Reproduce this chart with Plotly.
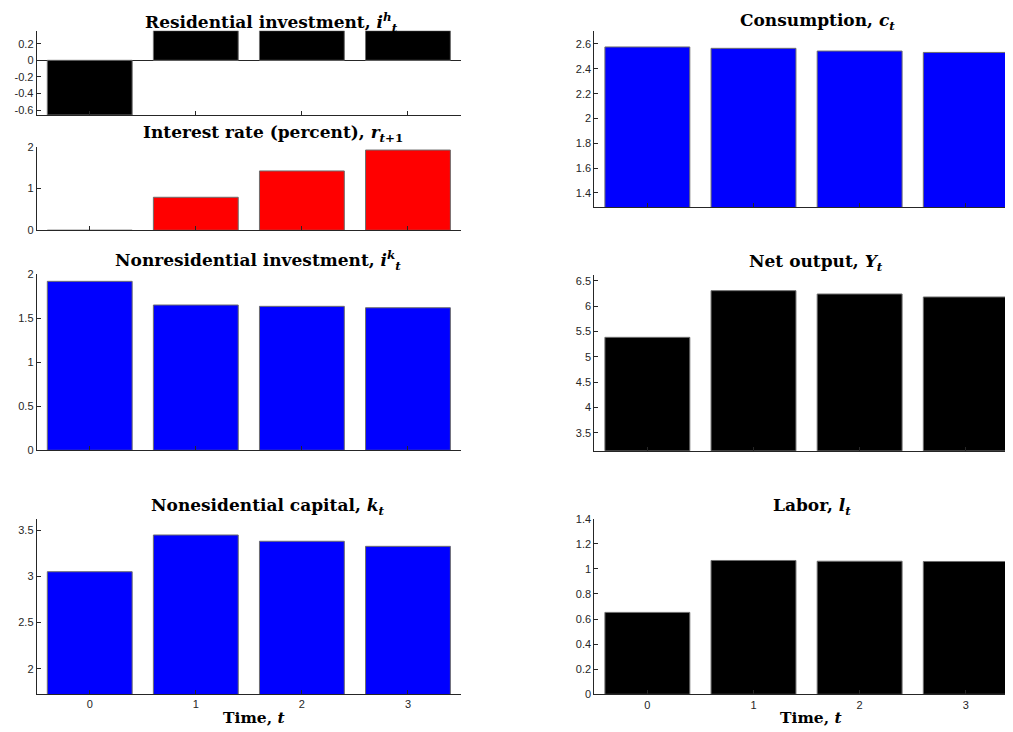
import plotly.graph_objects as go

OFF = 8  # browser body margin
W, H = 1013 - OFF, 732 - OFF

t = [0, 1, 2, 3]
x_tick_labels = ["0", "1", "2", "3"]

res_inv = [-0.659, 0.357, 0.357, 0.357]
interest = [0.0, 0.79, 1.42, 1.92]
nonres_inv = [1.92, 1.651, 1.636, 1.62]
nonres_cap = [3.051, 3.449, 3.381, 3.326]
consumption = [2.576, 2.565, 2.543, 2.532]
net_output = [5.382, 6.303, 6.237, 6.178]
labor = [0.653, 1.067, 1.061, 1.059]

titles = [
    "Residential investment, <i>i</i><sup><i>h</i></sup><sub><i>t</i></sub>",
    "Interest rate (percent), <i>r</i><sub><i>t</i>+1</sub>",
    "Nonresidential investment, <i>i</i><sup><i>k</i></sup><sub><i>t</i></sub>",
    "Nonesidential capital, <i>k</i><sub><i>t</i></sub>",
    "Consumption, <i>c</i><sub><i>t</i></sub>",
    "Net output, <i>Y</i><sub><i>t</i></sub>",
    "Labor, <i>l</i><sub><i>t</i></sub>",
]

y_ticks = [
    [-0.6, -0.4, -0.2, 0, 0.2],
    [0, 1, 2],
    [0, 0.5, 1, 1.5, 2],
    [2, 2.5, 3, 3.5],
    [1.4, 1.6, 1.8, 2, 2.2, 2.4, 2.6],
    [3.5, 4, 4.5, 5, 5.5, 6, 6.5],
    [0, 0.2, 0.4, 0.6, 0.8, 1, 1.2, 1.4],
]
y_tick_text = [
    ["-0.6", "-0.4", "-0.2", "0", "0.2"],
    ["0", "1", "2"],
    ["0", "0.5", "1", "1.5", "2"],
    ["2", "2.5", "3", "3.5"],
    ["1.4", "1.6", "1.8", "2", "2.2", "2.4", "2.6"],
    ["3.5", "4", "4.5", "5", "5.5", "6", "6.5"],
    ["0", "0.2", "0.4", "0.6", "0.8", "1", "1.2", "1.4"],
]
y_ranges = [
    [-0.659, 0.357],
    [0, 2],
    [0, 2],
    [1.726, 3.619],
    [1.287, 2.707],
    [3.145, 6.612],
    [0, 1.4],
]

series = [res_inv, interest, nonres_inv, nonres_cap, consumption, net_output, labor]
colors = ["#000000", "#ff0000", "#0000ff", "#0000ff", "#0000ff", "#000000", "#000000"]

# pixel geometry in the screenshot: (left, right, top, bottom)
LEFT = (36.7, 461.0)
RIGHT = (594.3, 1013.0)
boxes = [
    (LEFT, 30.7, 115.0),
    (LEFT, 146.7, 230.3),
    (LEFT, 274.3, 450.3),
    (LEFT, 519.3, 694.0),
    (RIGHT, 30.7, 207.0),
    (RIGHT, 275.0, 450.7),
    (RIGHT, 518.7, 694.3),
]
x_ranges = [[-0.5, 3.5]] * 4 + [[-0.5, 3.445]] * 3
title_pos = [(271, None), (273, 133.3), (258, 260), (267.5, 506.7),
             (817, None), (815.7, 262.7), (812, 506.7)]
bottom_panels = {3, 6}


def px(x):
    return (x - OFF) / W


def py(y):
    return 1 - (y - OFF) / H


AX = "#262626"
TICKFONT = dict(family="Liberation Sans, Arial, sans-serif", size=11, color=AX)
SERIF = "DejaVu Serif"

fig = go.Figure()
layout = dict(
    template="none",
    width=W, height=H, margin=dict(l=0, r=0, t=0, b=0, pad=0, autoexpand=False),
    paper_bgcolor="white", plot_bgcolor="white", showlegend=False,
    bargap=0.2, annotations=[],
)

for i, vals in enumerate(series):
    n = i + 1
    xa = "x" if n == 1 else f"x{n}"
    ya = "y" if n == 1 else f"y{n}"
    fig.add_trace(go.Bar(
        x=t, y=vals, xaxis=xa, yaxis=ya, width=0.8,
        marker=dict(color=colors[i], line=dict(color="#6e6e6e", width=1)),
    ))
    (l, r), top, bot = boxes[i]
    xkey = "xaxis" if n == 1 else f"xaxis{n}"
    ykey = "yaxis" if n == 1 else f"yaxis{n}"
    layout[xkey] = dict(
        domain=[px(l), min(1.0, px(r))], anchor=ya, range=x_ranges[i], automargin=False,
        tickvals=t, ticktext=x_tick_labels, showticklabels=i in bottom_panels,
        ticks="inside", ticklen=4, tickcolor=AX, showline=True, linecolor=AX,
        linewidth=1, showgrid=False, zeroline=False, tickfont=TICKFONT,
    )
    layout[ykey] = dict(
        domain=[py(bot), py(top)], anchor=xa, range=y_ranges[i],
        automargin=False,
        tickvals=y_ticks[i], ticktext=y_tick_text[i],
        ticks="inside", ticklen=4, tickcolor=AX, showline=True, linecolor=AX,
        linewidth=1, showgrid=False, zeroline=(i == 0), zerolinecolor=AX,
        zerolinewidth=1, tickfont=TICKFONT,
    )
    cx, cy = title_pos[i]
    if cy is None:
        ypos, yanc = 1.0, "top"
    else:
        ypos, yanc = py(cy), "middle"
    layout["annotations"].append(dict(
        text=f"<b>{titles[i]}</b>", x=px(cx), y=ypos, xref="paper", yref="paper",
        xanchor="center", yanchor=yanc, showarrow=False,
        font=dict(family=SERIF, size=17, color="black"),
    ))

for cx in (253.5, 811.3):
    layout["annotations"].append(dict(
        text="<b>Time, <i>t</i></b>", x=px(cx), y=py(717.3), xref="paper", yref="paper",
        xanchor="center", yanchor="middle", showarrow=False,
        font=dict(family=SERIF, size=15.5, color="black"),
    ))

fig.update_layout(**layout)
fig.write_html("out.html")
